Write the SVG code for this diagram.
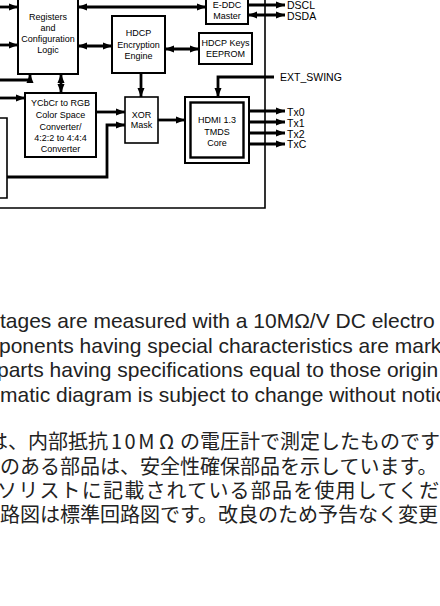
<svg xmlns="http://www.w3.org/2000/svg" width="440" height="606" viewBox="0 0 440 606">
<style>
.box{fill:#fff;stroke:#000;stroke-width:2}
.lbl{font-family:"Liberation Sans",Arial,sans-serif;font-size:9px;fill:#000;text-anchor:middle}
.sig{font-family:"Liberation Sans",Arial,sans-serif;font-size:10.5px;fill:#000}
.c{fill:none;stroke:#000;stroke-width:2.8}
.f{fill:none;stroke:#000;stroke-width:1.6}
.en{font-family:"Liberation Sans",Arial,sans-serif;font-size:21px;fill:#222}
.jp{font-family:"Noto Sans CJK JP","Noto Sans CJK SC",sans-serif;font-size:20px;fill:#222}
</style>
<defs>
<marker id="ah" markerUnits="userSpaceOnUse" markerWidth="10" markerHeight="8" refX="9" refY="4" orient="auto-start-reverse" viewBox="0 0 10 8">
<path d="M0,0.5 L9,4 L0,7.5 z" fill="#000"/>
</marker>
</defs>
<rect width="440" height="606" fill="#fff"/>
<g id="frame">
<polyline class="f" points="265,-2 265,208 -2,208"/>
<polyline class="f" points="-2,118 7,118 7,198 -2,198"/>
</g>
<g id="connectors">
<line class="c" x1="-2" y1="7" x2="18" y2="7" marker-end="url(#ah)"/>
<line class="c" x1="-2" y1="45" x2="18" y2="45" marker-end="url(#ah)"/>
<line class="c" x1="78" y1="7" x2="206" y2="7" marker-start="url(#ah)" marker-end="url(#ah)"/>
<line class="c" x1="78" y1="46" x2="112" y2="46" marker-start="url(#ah)" marker-end="url(#ah)"/>
<line class="c" x1="165" y1="49" x2="199" y2="49" marker-start="url(#ah)" marker-end="url(#ah)"/>
<line class="c" x1="248" y1="5" x2="285" y2="5" marker-end="url(#ah)"/>
<line class="c" x1="248" y1="15" x2="285" y2="15" marker-start="url(#ah)" marker-end="url(#ah)"/>
<polyline class="c" points="274,77 218,77 218,97" marker-end="url(#ah)"/>
<line class="c" x1="61" y1="74" x2="61" y2="93" marker-start="url(#ah)" marker-end="url(#ah)"/>
<polyline class="c" points="-2,80 30,80 30,74" marker-end="url(#ah)"/>
<line class="c" x1="-2" y1="98" x2="25" y2="98" marker-end="url(#ah)"/>
<line class="c" x1="141" y1="73" x2="141" y2="97" marker-end="url(#ah)"/>
<line class="c" x1="96" y1="112" x2="125" y2="112" marker-end="url(#ah)"/>
<polyline class="c" points="7,177 107,177 107,125 125,125" marker-end="url(#ah)"/>
<line class="c" x1="158" y1="120" x2="185" y2="120" marker-end="url(#ah)"/>
<line class="c" x1="249" y1="111" x2="285" y2="111" marker-end="url(#ah)"/>
<line class="c" x1="249" y1="122" x2="285" y2="122" marker-end="url(#ah)"/>
<line class="c" x1="249" y1="133" x2="285" y2="133" marker-end="url(#ah)"/>
<line class="c" x1="249" y1="144" x2="285" y2="144" marker-end="url(#ah)"/>
</g>
<g id="registers">
<rect class="box" x="18" y="-6" width="60" height="80"/>
<text class="lbl" x="48" y="20">Registers</text>
<text class="lbl" x="48" y="31">and</text>
<text class="lbl" x="48" y="42">Configuration</text>
<text class="lbl" x="48" y="53">Logic</text>
</g>
<g id="eddc">
<rect class="box" x="206" y="-6" width="42" height="30"/>
<text class="lbl" x="227" y="8">E-DDC</text>
<text class="lbl" x="227" y="19">Master</text>
</g>
<g id="hdcp">
<rect class="box" x="112" y="16" width="53" height="57"/>
<text class="lbl" x="138.5" y="36">HDCP</text>
<text class="lbl" x="138.5" y="48">Encryption</text>
<text class="lbl" x="138.5" y="59">Engine</text>
</g>
<g id="eeprom">
<rect class="box" x="199" y="33" width="53" height="31"/>
<text class="lbl" x="225.5" y="46">HDCP Keys</text>
<text class="lbl" x="225.5" y="57">EEPROM</text>
</g>
<g id="ycbcr">
<rect class="box" x="25" y="93" width="71" height="64"/>
<text class="lbl" x="60.5" y="106">YCbCr  to RGB</text>
<text class="lbl" x="60.5" y="118">Color Space</text>
<text class="lbl" x="60.5" y="130">Converter/</text>
<text class="lbl" x="60.5" y="141">4:2:2 to 4:4:4</text>
<text class="lbl" x="60.5" y="152">Converter</text>
</g>
<g id="xor">
<rect class="box" x="125" y="97" width="33" height="46" style="stroke-width:1.6"/>
<text class="lbl" x="141.5" y="118">XOR</text>
<text class="lbl" x="141.5" y="128">Mask</text>
</g>
<g id="hdmi">
<rect class="box" x="185" y="97" width="64" height="66"/>
<rect class="box" x="190.5" y="102.5" width="53" height="55" style="stroke-width:2.4"/>
<text class="lbl" x="217" y="123">HDMI 1.3</text>
<text class="lbl" x="217" y="135">TMDS</text>
<text class="lbl" x="217" y="146">Core</text>
</g>
<g id="signals">
<text class="sig" x="287" y="9">DSCL</text>
<text class="sig" x="287" y="19.5">DSDA</text>
<text class="sig" x="280" y="81">EXT_SWING</text>
<text class="sig" x="287" y="115.5">Tx0</text>
<text class="sig" x="287" y="126.5">Tx1</text>
<text class="sig" x="287" y="137.5">Tx2</text>
<text class="sig" x="287" y="148">TxC</text>
</g>
<g id="notes">
<text class="en" x="0" y="328">tages are measured with a 10MΩ/V DC electro</text>
<text class="en" x="-1" y="353">ponents having special characteristics are marke</text>
<text class="en" x="-3" y="377">parts having specifications equal to those origin</text>
<text class="en" x="0" y="402">matic diagram is subject to change without notic</text>
<text class="jp" x="-12" y="449">は、内部抵抗<tspan x="111" letter-spacing="2.5">10M</tspan><tspan x="159">Ω</tspan><tspan x="180">の電圧計で測定したものです</tspan></text>
<text class="jp" x="0" y="473.5">のある部品は、安全性確保部品を示しています。</text>
<text class="jp" x="-3" y="498" letter-spacing="1.2">ソリストに記載されている部品を使用してくだ</text>
<text class="jp" x="0" y="522">路図は標準回路図です。改良のため予告なく変更</text>
</g>
</svg>
